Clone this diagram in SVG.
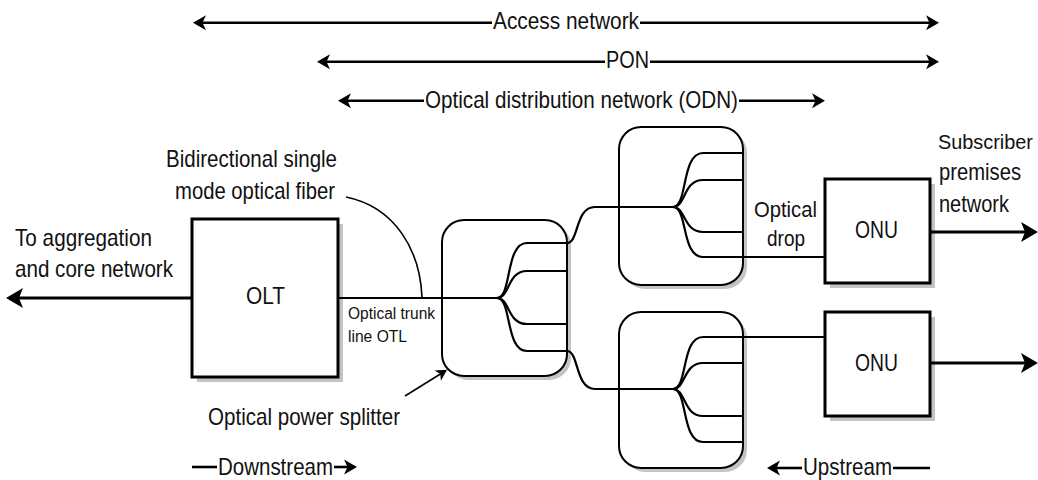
<svg xmlns="http://www.w3.org/2000/svg" width="1038" height="480" viewBox="0 0 1038 480">
<style>
text{font-family:"Liberation Sans",Arial,sans-serif;font-size:24px;fill:#111;}
.sm{font-size:16px;}
.md{font-size:22px;}
.sub{font-size:20.5px;}
.box{fill:#fff;stroke:#000;stroke-width:3;}
.spl{fill:#fff;stroke:#000;stroke-width:2;}
.sh{fill:#c4c4c4;stroke:none;}
.fib{fill:none;stroke:#000;stroke-width:2.2;}
.rng{fill:none;stroke:#000;stroke-width:2.6;}
.thick{fill:none;stroke:#000;stroke-width:3.2;}
.thin{fill:none;stroke:#000;stroke-width:1.6;}
</style>
<defs>
<marker id="ah" viewBox="-6 -8 15 16" refX="0" refY="0" markerWidth="15" markerHeight="16" markerUnits="userSpaceOnUse" orient="auto-start-reverse">
<path d="M8,0 L-5,-7.5 L-1.5,0 L-5,7.5 Z" fill="#000"/>
</marker>
<marker id="ahb" viewBox="-8 -11 19 22" refX="0" refY="0" markerWidth="19" markerHeight="22" markerUnits="userSpaceOnUse" orient="auto-start-reverse">
<path d="M10,0 L-7,-10 L-3,0 L-7,10 Z" fill="#000"/>
</marker>
<marker id="ahs" viewBox="-6 -7 13 14" refX="0" refY="0" markerWidth="13" markerHeight="14" markerUnits="userSpaceOnUse" orient="auto">
<path d="M6,0 L-5,-6 L-2,0 L-5,6 Z" fill="#000"/>
</marker>
</defs>
<rect width="1038" height="480" fill="#fff"/>

<g id="shadows">
<rect class="sh" x="197" y="224" width="146" height="158"/>
<rect class="sh" x="446" y="224" width="125" height="156" rx="22"/>
<rect class="sh" x="623" y="131" width="124" height="158" rx="22"/>
<rect class="sh" x="623" y="316" width="124" height="156" rx="22"/>
<rect class="sh" x="830" y="184" width="105" height="104"/>
<rect class="sh" x="830" y="317" width="105" height="104"/>
</g>

<g id="olt">
<rect class="box" x="192" y="219" width="146" height="158"/>
<text x="246" y="304" textLength="39" lengthAdjust="spacingAndGlyphs">OLT</text>
</g>
<g id="splitter1">
<rect class="spl" x="442" y="220" width="125" height="156" rx="22"/>
</g>
<g id="splitter2">
<rect class="spl" x="619" y="127" width="124" height="158" rx="22"/>
</g>
<g id="splitter3">
<rect class="spl" x="619" y="312" width="124" height="156" rx="22"/>
</g>
<g id="onu1">
<rect class="box" x="825" y="179" width="105" height="104"/>
<text x="855" y="238" textLength="43" lengthAdjust="spacingAndGlyphs">ONU</text>
</g>
<g id="onu2">
<rect class="box" x="825" y="312" width="105" height="104"/>
<text x="855" y="371" textLength="43" lengthAdjust="spacingAndGlyphs">ONU</text>
</g>

<g id="connectors">
<line class="rng" x1="201" y1="22.7" x2="492" y2="22.7" marker-start="url(#ah)"/>
<line class="rng" x1="640" y1="22.7" x2="931" y2="22.7" marker-end="url(#ah)"/>
<line class="rng" x1="325" y1="61.7" x2="605" y2="61.7" marker-start="url(#ah)"/>
<line class="rng" x1="650" y1="61.7" x2="931" y2="61.7" marker-end="url(#ah)"/>
<line class="rng" x1="346" y1="100.7" x2="424" y2="100.7" marker-start="url(#ah)"/>
<line class="rng" x1="739" y1="100.7" x2="817" y2="100.7" marker-end="url(#ah)"/>
<line class="thick" x1="192" y1="298" x2="16" y2="298" marker-end="url(#ahb)"/>
<line class="fib" x1="338" y1="298" x2="497" y2="298"/>
<path class="fib" d="M497,298 C512,298 505,243 527,243 H567"/>
<path class="fib" d="M497,298 C510,298 507,271 527,271 H567"/>
<path class="fib" d="M497,298 C510,298 507,324 527,324 H567"/>
<path class="fib" d="M497,298 C512,298 505,351 527,351 H567"/>
<path class="fib" d="M567,243 C579,243 575,207 595,207 H673"/>
<path class="fib" d="M567,351 C579,351 575,389 595,389 H673"/>
<path class="fib" d="M673,207 C688,207 681,153 703,153 H743"/>
<path class="fib" d="M673,207 C686,207 683,180 703,180 H743"/>
<path class="fib" d="M673,207 C686,207 683,232 703,232 H743"/>
<path class="fib" d="M673,207 C688,207 681,257 703,257 H743"/>
<path class="fib" d="M673,389 C688,389 681,337 703,337 H743"/>
<path class="fib" d="M673,389 C686,389 683,363 703,363 H743"/>
<path class="fib" d="M673,389 C686,389 683,416 703,416 H743"/>
<path class="fib" d="M673,389 C688,389 681,442 703,442 H743"/>
<line class="fib" x1="743" y1="257" x2="825" y2="257"/>
<line class="fib" x1="743" y1="337" x2="825" y2="337"/>
<line class="thick" x1="930" y1="232" x2="1028" y2="232" marker-end="url(#ahb)"/>
<line class="thick" x1="930" y1="363" x2="1028" y2="363" marker-end="url(#ahb)"/>
<path class="thin" d="M346,197 C395,207 420,250 422,297"/>
<line class="thin" x1="405" y1="396" x2="442" y2="373" marker-end="url(#ahs)"/>
<line class="rng" x1="192" y1="467" x2="217" y2="467"/>
<line class="rng" x1="334" y1="467" x2="349" y2="467" marker-end="url(#ah)"/>
<line class="rng" x1="775" y1="468" x2="802" y2="468" marker-start="url(#ah)"/>
<line class="rng" x1="893" y1="468" x2="930" y2="468"/>
</g>

<g id="labels">
<text x="493" y="29" textLength="146" lengthAdjust="spacingAndGlyphs">Access network</text>
<text x="606" y="68" textLength="43" lengthAdjust="spacingAndGlyphs">PON</text>
<text x="425" y="108" textLength="313" lengthAdjust="spacingAndGlyphs">Optical distribution network (ODN)</text>
<text x="166" y="167" textLength="171" lengthAdjust="spacingAndGlyphs">Bidirectional single</text>
<text x="175" y="199" textLength="160" lengthAdjust="spacingAndGlyphs">mode optical fiber</text>
<text x="15" y="246" textLength="137" lengthAdjust="spacingAndGlyphs">To aggregation</text>
<text x="15" y="277" textLength="158" lengthAdjust="spacingAndGlyphs">and core network</text>
<text class="sm" x="348" y="319" textLength="87" lengthAdjust="spacingAndGlyphs">Optical trunk</text>
<text class="sm" x="348" y="342" textLength="59" lengthAdjust="spacingAndGlyphs">line OTL</text>
<text x="208" y="425" textLength="192" lengthAdjust="spacingAndGlyphs">Optical power splitter</text>
<text x="218" y="475" textLength="115" lengthAdjust="spacingAndGlyphs">Downstream</text>
<text x="803" y="475" textLength="89" lengthAdjust="spacingAndGlyphs">Upstream</text>
<text class="md" x="754" y="217" textLength="63" lengthAdjust="spacingAndGlyphs">Optical</text>
<text class="md" x="767" y="246" textLength="38" lengthAdjust="spacingAndGlyphs">drop</text>
<text class="sub" x="938" y="149" textLength="95" lengthAdjust="spacingAndGlyphs">Subscriber</text>
<text x="939" y="180" textLength="82" lengthAdjust="spacingAndGlyphs">premises</text>
<text x="939" y="212" textLength="70" lengthAdjust="spacingAndGlyphs">network</text>
</g>
</svg>
